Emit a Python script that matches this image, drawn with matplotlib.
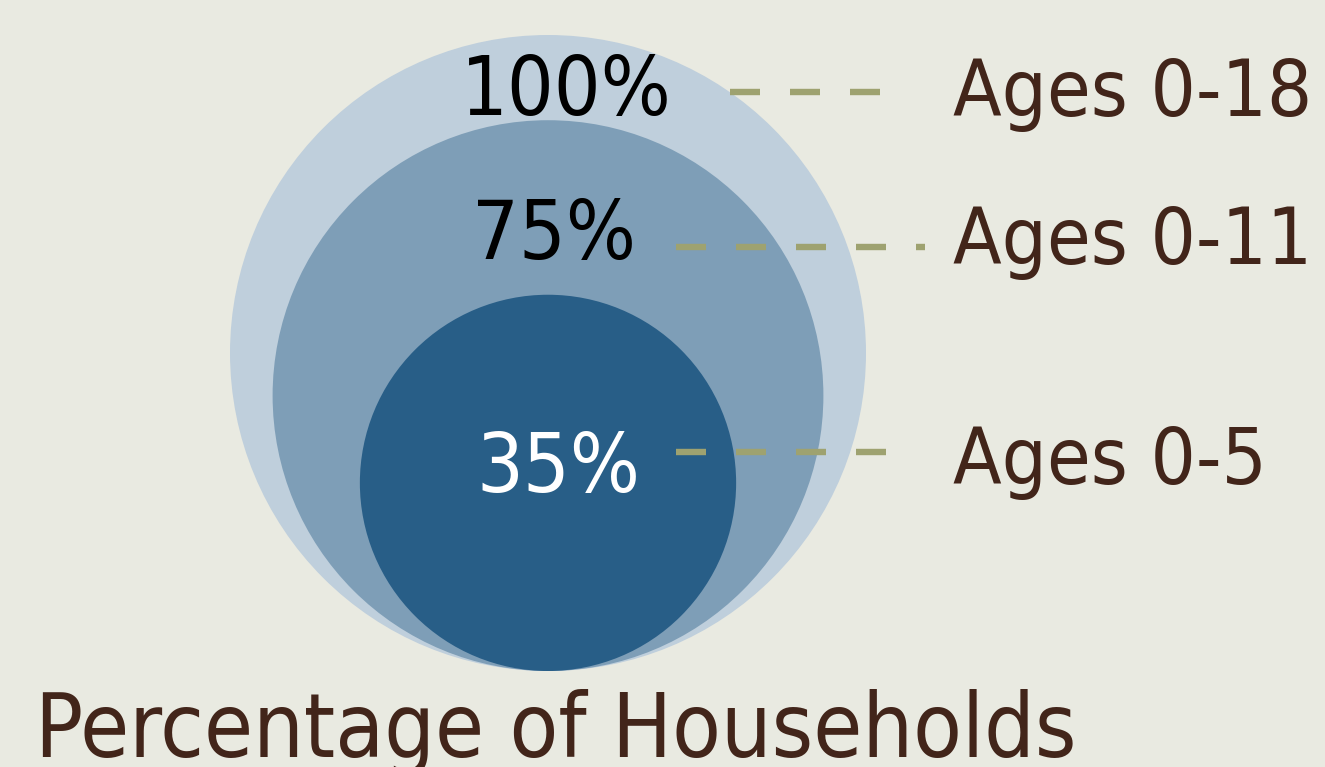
import matplotlib
matplotlib.use("Agg")
import matplotlib.pyplot as plt
from matplotlib.patches import Circle
import numpy as np

# Data
values = [100, 75, 35]
value_labels = ["100%", "75%", "35%"]
age_labels = ["Ages 0-18", "Ages 0-11", "Ages 0-5"]
title = "Percentage of Households"

# Styling
bg = "#E9EAE1"
circle_colors = ["#BFCFDC", "#7E9EB7", "#285E87"]
value_text_colors = ["#000000", "#000000", "#FFFFFF"]
brown = "#42251A"
dash_color = "#9EA270"

W, H = 1325, 767
fig = plt.figure(figsize=(W / 100, H / 100), dpi=100, facecolor=bg)
ax = fig.add_axes([0, 0, 1, 1])
ax.set_xlim(0, W)
ax.set_ylim(H, 0)
ax.set_aspect("equal")
ax.axis("off")
ax.set_facecolor(bg)

R = 318.0
cx = 548.0
bottom = 671.0
radii = [R * np.sqrt(v / 100.0) for v in values]
for r, c in zip(radii, circle_colors):
    ax.add_patch(Circle((cx, bottom - r), r, facecolor=c, edgecolor="none"))

font = dict(family="DejaVu Sans", stretch="condensed")

val_pos = [(566, 115), (554, 259), (558, 492)]
age_pos = [(953, 116), (953, 264), (953, 484)]
line_pos = [(92, 730, 880), (247, 676, 925), (452, 676, 886)]

lw = 4.6
dash_pt = 30 * 0.72 / lw
for i in range(3):
    x, y = val_pos[i]
    ax.text(x, y, value_labels[i], fontsize=59, color=value_text_colors[i],
            ha="center", va="baseline", **font)
    x, y = age_pos[i]
    ax.text(x, y, age_labels[i], fontsize=57, color=brown,
            ha="left", va="baseline", **font)
    ly, x0, x1 = line_pos[i]
    ax.plot([x0, x1], [ly, ly], color=dash_color, lw=lw,
            dashes=(dash_pt, dash_pt), solid_capstyle="butt", dash_capstyle="butt")

ax.text(35, 757, title, fontsize=64, color=brown, ha="left", va="baseline", **font)

fig.savefig("out.png", dpi=100, facecolor=bg)
